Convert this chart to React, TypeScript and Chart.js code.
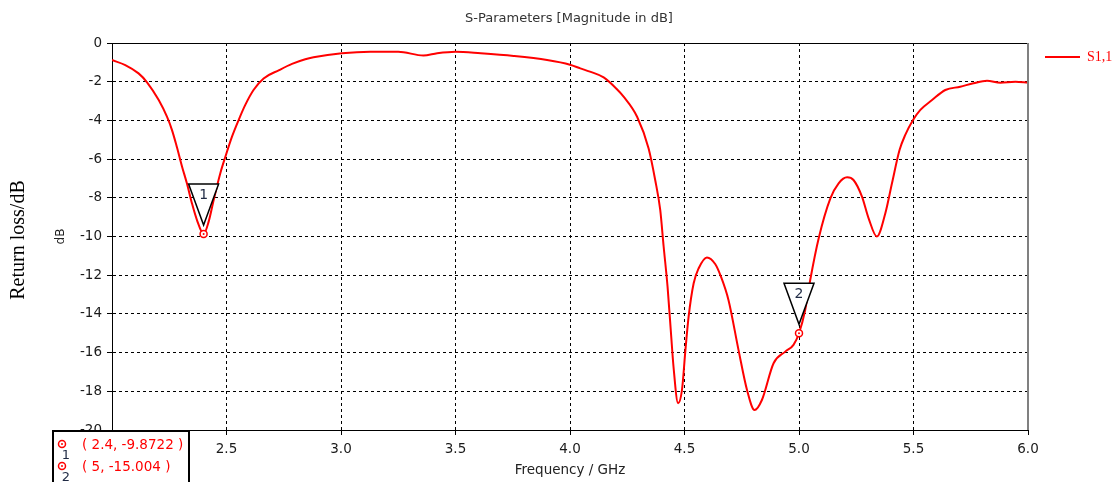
import React, { useEffect, useRef } from "react";
import { Chart, registerables } from "chart.js";

Chart.register(...registerables);

const freqGHz = [
  2.0, 2.058, 2.116, 2.153, 2.204, 2.24, 2.262, 2.283, 2.306, 2.327, 2.349, 2.371, 2.4,
  2.422, 2.444, 2.473, 2.495, 2.524, 2.553, 2.582, 2.618, 2.662, 2.73, 2.786, 2.844, 2.88,
  3.004, 3.128, 3.25, 3.36, 3.42, 3.5, 3.61, 3.754, 3.9, 4.0, 4.045, 4.087, 4.147, 4.205,
  4.234, 4.293, 4.343, 4.372, 4.394, 4.409, 4.426, 4.441, 4.452, 4.472, 4.489, 4.504, 4.518,
  4.54, 4.562, 4.598, 4.634, 4.66, 4.692, 4.736, 4.773, 4.806, 4.838, 4.889, 4.94, 4.976,
  5.0, 5.027, 5.049, 5.086, 5.137, 5.173, 5.21, 5.238, 5.275, 5.304, 5.34, 5.377, 5.406,
  5.439, 5.464, 5.498, 5.53, 5.581, 5.639, 5.704, 5.762, 5.821, 5.879, 5.945, 6.0,
];
const s11dB = [
  -0.88, -1.14, -1.57, -2.03, -2.95, -3.81, -4.5, -5.36, -6.39, -7.25, -8.28, -9.15, -9.87,
  -9.23, -8.11, -6.73, -5.88, -4.84, -3.98, -3.2, -2.43, -1.83, -1.4, -1.08, -0.84, -0.74,
  -0.53, -0.45, -0.45, -0.65, -0.53, -0.45, -0.53, -0.67, -0.88, -1.12, -1.31, -1.48, -1.78, -2.39,
  -2.77, -3.81, -5.44, -7.08, -8.63, -10.53, -12.59, -15.0, -16.73, -18.62, -17.93, -15.87, -14.14,
  -12.42, -11.64, -11.08, -11.42, -12.1, -13.28, -15.87, -17.93, -18.97, -18.45, -16.55, -15.95, -15.6,
  -15.0, -13.8, -12.25, -10.09, -8.03, -7.25, -6.94, -7.08, -7.94, -9.06, -10.0, -8.8, -7.25,
  -5.53, -4.75, -3.98, -3.46, -2.95, -2.43, -2.26, -2.08, -1.95, -2.05, -2.0, -2.05,
];

const markerFreq = [2.4, 5];
const markerDb = [-9.8722, -15.004];
const markerNames = ["1", "2"];
const markerTexts = ["( 2.4, -9.8722 )", "( 5, -15.004 )"];

const seriesName = "S1,1";
const titleText = "S-Parameters [Magnitude in dB]";
const xTitle = "Frequency / GHz";
const yTitle = "dB";
const outerYTitle = "Return loss/dB";

const RED = "#ff0000";
const SANS = "'DejaVu Sans', sans-serif";
const SERIF = "'Liberation Serif', serif";

const overlayPlugin = {
  id: "overlay",
  afterDatasetsDraw(chart: any) {
    const ctx = chart.ctx as CanvasRenderingContext2D;
    const { left, right, top, bottom } = chart.chartArea;
    const xs = chart.scales.x;
    const ys = chart.scales.y;
    ctx.save();
    ctx.strokeStyle = "#000";
    ctx.lineWidth = 1;
    ctx.beginPath();
    ctx.moveTo(left, top + 0.5);
    ctx.lineTo(right, top + 0.5);
    ctx.stroke();
    ctx.strokeStyle = "#808080";
    ctx.lineWidth = 2;
    ctx.beginPath();
    ctx.moveTo(right, top);
    ctx.lineTo(right, bottom);
    ctx.stroke();

    for (let i = 0; i < markerFreq.length; i++) {
      const px = xs.getPixelForValue(markerFreq[i]);
      const py = ys.getPixelForValue(markerDb[i]);
      const apexY = py - 9;
      const topY = py - 50;
      ctx.beginPath();
      ctx.moveTo(px - 15, topY);
      ctx.lineTo(px + 15, topY);
      ctx.lineTo(px, apexY);
      ctx.closePath();
      ctx.fillStyle = "#fff";
      ctx.fill();
      ctx.strokeStyle = "#000";
      ctx.lineWidth = 1.5;
      ctx.stroke();
      ctx.fillStyle = "#1f2a44";
      ctx.font = `14px ${SANS}`;
      ctx.textAlign = "center";
      ctx.textBaseline = "middle";
      ctx.fillText(markerNames[i], px, topY + 11);
      ctx.beginPath();
      ctx.arc(px, py, 3.5, 0, Math.PI * 2);
      ctx.strokeStyle = RED;
      ctx.lineWidth = 1.5;
      ctx.fillStyle = "#fff";
      ctx.fill();
      ctx.stroke();
      ctx.beginPath();
      ctx.arc(px, py, 1, 0, Math.PI * 2);
      ctx.fillStyle = RED;
      ctx.fill();
    }
    ctx.restore();
  },
  afterDraw(chart: any) {
    const ctx = chart.ctx as CanvasRenderingContext2D;
    const { left, right, top, bottom } = chart.chartArea;
    ctx.save();
    ctx.fillStyle = "#333";
    ctx.font = `13px ${SANS}`;
    ctx.textAlign = "center";
    ctx.textBaseline = "middle";
    ctx.fillText(titleText, 569, 19);
    ctx.fillStyle = "#222";
    ctx.font = `13.5px ${SANS}`;
    ctx.fillText(xTitle, 570, 470);
    ctx.save();
    ctx.translate(61, (top + bottom) / 2);
    ctx.rotate(-Math.PI / 2);
    ctx.font = `12px ${SANS}`;
    ctx.fillText(yTitle, 0, 0);
    ctx.restore();
    ctx.save();
    ctx.translate(19, 240);
    ctx.rotate(-Math.PI / 2);
    ctx.fillStyle = "#000";
    ctx.font = `20px ${SERIF}`;
    ctx.fillText(outerYTitle, 0, 0);
    ctx.restore();
    ctx.strokeStyle = RED;
    ctx.lineWidth = 2;
    ctx.beginPath();
    ctx.moveTo(1045, 57);
    ctx.lineTo(1080, 57);
    ctx.stroke();
    ctx.fillStyle = RED;
    ctx.font = `14px ${SERIF}`;
    ctx.textAlign = "left";
    ctx.fillText(seriesName, 1087, 57);
    ctx.fillStyle = "#fff";
    ctx.fillRect(52, 430, 138, 60);
    ctx.strokeStyle = "#000";
    ctx.lineWidth = 2;
    ctx.strokeRect(53, 431, 136, 60);
    for (let i = 0; i < markerTexts.length; i++) {
      const cy = 445 + i * 22;
      ctx.beginPath();
      ctx.arc(62, cy - 1, 3.5, 0, Math.PI * 2);
      ctx.strokeStyle = RED;
      ctx.lineWidth = 1.5;
      ctx.stroke();
      ctx.beginPath();
      ctx.arc(62, cy - 1, 1, 0, Math.PI * 2);
      ctx.fillStyle = RED;
      ctx.fill();
      ctx.fillStyle = "#1f2a44";
      ctx.font = `13px ${SANS}`;
      ctx.textAlign = "center";
      ctx.fillText(markerNames[i], 66, cy + 11);
      ctx.fillStyle = RED;
      ctx.font = `13.5px ${SANS}`;
      ctx.textAlign = "left";
      ctx.fillText(markerTexts[i], 82, cy);
    }
    ctx.restore();
  },
};

export default function App() {
  const ref = useRef<HTMLCanvasElement | null>(null);
  useEffect(() => {
    if (!ref.current) return;
    const points = freqGHz.map((f, i) => ({ x: f, y: s11dB[i] }));
    const tickFont = { family: "'DejaVu Sans', sans-serif", size: 13.5 };
    const chart = new Chart(ref.current, {
      type: "line",
      data: {
        datasets: [
          {
            label: seriesName,
            data: points,
            borderColor: RED,
            borderWidth: 2,
            pointRadius: 0,
            cubicInterpolationMode: "monotone",
            fill: false,
          },
        ],
      },
      options: {
        animation: false,
        responsive: false,
        devicePixelRatio: 1,
        layout: { padding: { top: 43, right: 90, left: 0, bottom: 0 } },
        plugins: { legend: { display: false }, title: { display: false }, tooltip: { enabled: false } },
        scales: {
          x: {
            type: "linear",
            min: 2,
            max: 6,
            ticks: { stepSize: 0.5, font: tickFont, color: "#1a1a1a", padding: 6, maxRotation: 0 },
            grid: { color: "#000", tickLength: 5, tickColor: "#000" },
            border: { display: true, color: "#000", width: 1, dash: [3, 3] },
            afterFit: (s: any) => {
              s.height = 52;
            },
          },
          y: {
            type: "linear",
            min: -20,
            max: 0,
            ticks: { stepSize: 2, font: tickFont, color: "#1a1a1a", padding: 5 },
            grid: { color: "#000", tickLength: 5, tickColor: "#000" },
            border: { display: true, color: "#000", width: 1, dash: [3, 3] },
            afterFit: (s: any) => {
              s.width = 112;
            },
          },
        },
      },
      plugins: [overlayPlugin],
    } as any);
    return () => chart.destroy();
  }, []);
  return (
    <div style={{ position: "absolute", left: 0, top: 0, width: 1118, height: 482, background: "#fff" }}>
      <canvas ref={ref} width={1118} height={482} style={{ display: "block" }} />
    </div>
  );
}
